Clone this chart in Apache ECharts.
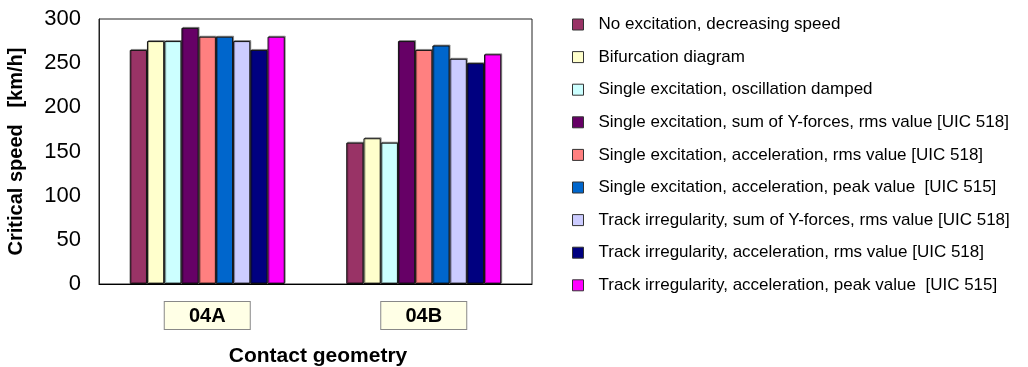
<!DOCTYPE html>
<html>
<head>
<meta charset="utf-8">
<script src="https://cdn.jsdelivr.net/npm/echarts@6/dist/echarts.min.js"></script>
<style>
  html, body { margin: 0; padding: 0; background: #fff; }
  #chart { width: 1028px; height: 367px; }
</style>
</head>
<body>
<div id="chart"></div>
<script>
const categories = ['04A', '04B']

const seriesNames = [
  'No excitation, decreasing speed',
  'Bifurcation diagram',
  'Single excitation, oscillation damped',
  'Single excitation, sum of Y-forces, rms value [UIC 518]',
  'Single excitation, acceleration, rms value [UIC 518]',
  'Single excitation, acceleration, peak value  [UIC 515]',
  'Track irregularity, sum of Y-forces, rms value [UIC 518]',
  'Track irregularity, acceleration, rms value [UIC 518]',
  'Track irregularity, acceleration, peak value  [UIC 515]',
]

// one row per series: [04A, 04B]
const noExcitation = [265, 160]
const bifurcation = [275, 165]
const singleDamped = [275, 160]
const singleForcesRms = [290, 275]
const singleAccRms = [280, 265]
const singleAccPeak = [280, 270]
const trackForcesRms = [275, 255]
const trackAccRms = [265, 250]
const trackAccPeak = [280, 260]

const seriesValues = [
  noExcitation, bifurcation, singleDamped, singleForcesRms, singleAccRms,
  singleAccPeak, trackForcesRms, trackAccRms, trackAccPeak,
]

const yTicks = [0, 50, 100, 150, 200, 250, 300]

const seriesColors = ['#993366', '#FFFFCC', '#CCFFFF', '#660066', '#FF8080',
  '#0066CC', '#CCCCFF', '#000080', '#FF00FF']

const font = 'Liberation Sans, Arial, sans-serif'

const chart = echarts.init(document.getElementById('chart'))

chart.setOption({
  animation: false,
  textStyle: { fontFamily: font },
  grid: {
    left: 99,
    top: 19,
    width: 433,
    height: 265,
    outerBoundsMode: 'none',
    show: true,
    borderColor: '#222',
    borderWidth: 1,
    backgroundColor: 'transparent',
  },
  legend: {
    orient: 'vertical',
    left: 567,
    top: 11,
    itemWidth: 11,
    itemHeight: 11,
    itemGap: 15.6,
    icon: 'rect',
    itemStyle: { borderColor: '#333', borderWidth: 1 },
    textStyle: { fontSize: 17, color: '#000', fontFamily: font, lineHeight: 16, padding: [0, 0, 0, 10] },
    data: seriesNames,
  },
  xAxis: {
    type: 'category',
    data: categories,
    axisLine: { lineStyle: { color: '#000', width: 1 } },
    axisTick: { show: false },
    axisLabel: {
      margin: 18,
      fontSize: 20,
      fontWeight: 'bold',
      color: '#000',
      fontFamily: font,
      width: 85,
      align: 'center',
      backgroundColor: '#FFFFE6',
      borderColor: '#888',
      borderWidth: 1,
      padding: [4, 0, 3, 0],
    },
    name: 'Contact geometry',
    nameLocation: 'middle',
    nameGap: 62,
    nameTextStyle: { fontSize: 21, fontWeight: 'bold', color: '#000', fontFamily: font, padding: [0, 0, 0, 5] },
  },
  yAxis: {
    type: 'value',
    min: yTicks[0],
    max: yTicks[yTicks.length - 1],
    interval: 50,
    axisLine: { show: true, lineStyle: { color: '#222', width: 1 } },
    axisTick: { show: false },
    splitLine: { show: false },
    axisLabel: { fontSize: 22, color: '#000', fontFamily: font, margin: 18, padding: [3, 0, 0, 0] },
    name: 'Critical speed   [km/h]',
    nameLocation: 'middle',
    nameRotate: 90,
    nameGap: 73,
    nameTextStyle: { fontSize: 20, fontWeight: 'bold', color: '#000', fontFamily: font },
  },
  series: seriesNames.map((name, idx) => ({
    name,
    type: 'bar',
    data: seriesValues[idx],
    barGap: '0%',
    barCategoryGap: '28.4%',
    itemStyle: {
      color: seriesColors[idx],
      borderColor: '#111',
      borderWidth: 1,
      shadowColor: 'rgba(0,0,0,0.35)',
      shadowOffsetX: 1,
      shadowOffsetY: -1,
    },
  })),
})
</script>
</body>
</html>
